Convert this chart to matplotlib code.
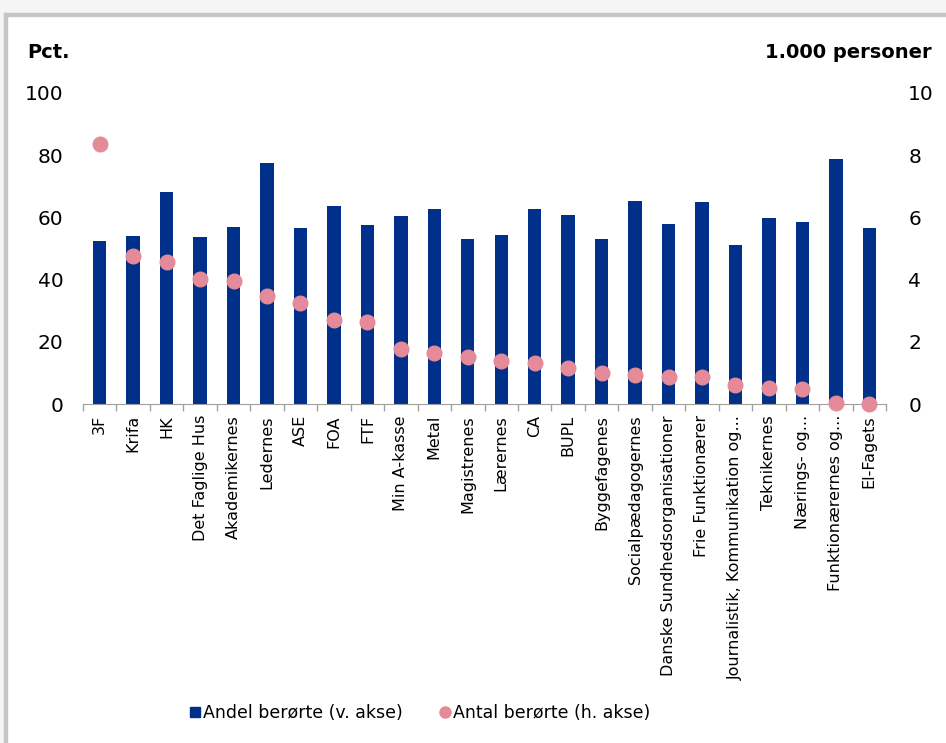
import matplotlib.pyplot as plt
from matplotlib.lines import Line2D
from matplotlib.patches import Rectangle

# data
kasser = ['3F', 'Krifa', 'HK', 'Det Faglige Hus', 'Akademikernes', 'Ledernes',
          'ASE', 'FOA', 'FTF', 'Min A-kasse', 'Metal', 'Magistrenes',
          'Lærernes', 'CA', 'BUPL', 'Byggefagenes', 'Socialpædagogernes',
          'Danske Sundhedsorganisationer', 'Frie Funktionærer',
          'Journalistik, Kommunikation og...', 'Teknikernes', 'Nærings- og...',
          'Funktionærernes og...', 'El-Fagets']
andel = [52.3, 53.9, 68.1, 53.6, 56.9, 77.5, 56.5, 63.8, 57.5, 60.5, 62.8, 53.0,
         54.3, 62.8, 60.9, 53.1, 65.2, 57.8, 64.9, 51.0, 59.8, 58.5, 78.8, 56.5]
antal = [8.37, 4.77, 4.56, 4.03, 3.96, 3.46, 3.26, 2.70, 2.63, 1.78, 1.65, 1.52,
         1.37, 1.31, 1.17, 1.01, 0.93, 0.88, 0.86, 0.60, 0.52, 0.49, 0.02, 0.01]

blue = '#00308a'
pink = '#e48a98'

fig = plt.figure(figsize=(9.46, 7.43), dpi=100)

# grey frame like the original screenshot
fig.patches.append(Rectangle((0, 1 - 13 / 743), 1, 13 / 743, transform=fig.transFigure,
                             color='#f4f5f5', zorder=0))
fig.patches.append(Rectangle((0, 0), 4 / 946, 1, transform=fig.transFigure,
                             color='#f4f5f5', zorder=0))
fig.patches.append(Rectangle((4 / 946, 1 - 16 / 743), 1, 3 / 743, transform=fig.transFigure,
                             color='#c8c6c2', zorder=1))
fig.patches.append(Rectangle((4 / 946, 0), 3 / 946, 1 - 13 / 743, transform=fig.transFigure,
                             color='#c8c6c2', zorder=1))

ax = fig.add_axes([83 / 946, 339 / 743, 803 / 946, 311 / 743])
ax2 = ax.twinx()

x = list(range(len(kasser)))
ax.bar(x, andel, width=0.4, color=blue, zorder=2)
ax2.plot(x, antal, 'o', color=pink, markersize=10.5, zorder=3, clip_on=False)

ax.set_xlim(-0.5, len(kasser) - 0.5)
ax.set_ylim(0, 100)
ax2.set_ylim(0, 10)
ax.set_yticks(range(0, 101, 20))
ax2.set_yticks(range(0, 11, 2))

for a in (ax, ax2):
    for s in ['top', 'left', 'right']:
        a.spines[s].set_visible(False)
    a.spines['bottom'].set_color('#a0a0a0')
ax2.spines['bottom'].set_visible(False)

ax.tick_params(axis='y', length=0, pad=14, labelsize=14.5)
ax2.tick_params(axis='y', length=0, pad=16, labelsize=14.5)
ax.set_xticks(x)
ax.set_xticklabels(kasser, rotation=90, fontsize=11.5)
ax.tick_params(axis='x', which='major', length=0, pad=8)
ax.set_xticks([i - 0.5 for i in range(len(kasser) + 1)], minor=True)
ax.tick_params(axis='x', which='minor', length=5, color='#a0a0a0', width=1)

ax.set_zorder(ax2.get_zorder() - 1)
ax.patch.set_visible(False)

fig.text(27 / 946, 1 - 58 / 743, 'Pct.', fontsize=14, fontweight='bold', ha='left', va='baseline')
fig.text(932 / 946, 1 - 58 / 743, '1.000 personer', fontsize=14, fontweight='bold',
         ha='right', va='baseline')

handles = [Line2D([], [], marker='s', color=blue, linestyle='none', markersize=7),
           Line2D([], [], marker='o', color=pink, linestyle='none', markersize=8)]
fig.legend(handles, ['Andel berørte (v. akse)', 'Antal berørte (h. akse)'],
           loc='center', bbox_to_anchor=(0.443, 30 / 743), ncol=2, frameon=False,
           fontsize=12.5, handletextpad=0.1, columnspacing=2.0, handlelength=0.8)

fig.savefig('out.png', dpi=100)
